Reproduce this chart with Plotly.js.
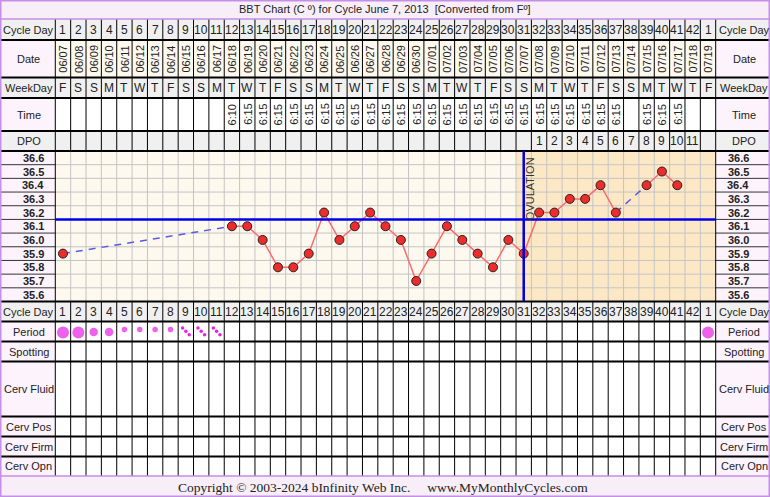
<!DOCTYPE html>
<html><head><meta charset="utf-8">
<script src="https://cdn.plot.ly/plotly-3.0.1.min.js"></script>
<style>html,body{margin:0;padding:0;background:#fff}#chart{width:770px;height:497px}</style>
</head><body><div id="chart"></div>
<script>
// ---------- DATA ----------
const chartTitle = 'BBT Chart (C º) for Cycle June 7, 2013 \u00a0[Converted from Fº]';
const footerText = 'Copyright © 2003-2024 bInfinity Web Inc. \u00a0\u00a0\u00a0\u00a0www.MyMonthlyCycles.com';
const cycleDays = [1,2,3,4,5,6,7,8,9,10,11,12,13,14,15,16,17,18,19,20,21,22,23,24,25,26,27,28,29,30,31,32,33,34,35,36,37,38,39,40,41,42,1];
const dates = ['06/07','06/08','06/09','06/10','06/11','06/12','06/13','06/14','06/15','06/16','06/17','06/18','06/19','06/20','06/21','06/22','06/23','06/24','06/25','06/26','06/27','06/28','06/29','06/30','07/01','07/02','07/03','07/04','07/05','07/06','07/07','07/08','07/09','07/10','07/11','07/12','07/13','07/14','07/15','07/16','07/17','07/18','07/19'];
const weekdays = ['F','S','S','M','T','W','T','F','S','S','M','T','W','T','F','S','S','M','T','W','T','F','S','S','M','T','W','T','F','S','S','M','T','W','T','F','S','S','M','T','W','T','F'];
const times = ['','','','','','','','','','','','6:10','6:15','6:15','6:15','6:15','6:15','6:15','6:15','6:15','6:15','6:15','6:15','6:15','6:15','6:15','6:15','6:15','6:15','6:15','6:15','6:15','6:15','6:15','6:15','6:15','6:15','','6:15','6:15','6:15','',''];
const dpo = ['','','','','','','','','','','','','','','','','','','','','','','','','','','','','','','','1','2','3','4','5','6','7','8','9','10','11',''];
const temps = [35.9,null,null,null,null,null,null,null,null,null,null,36.1,36.1,36.0,35.8,35.8,35.9,36.2,36.0,36.1,36.2,36.1,36.0,35.7,35.9,36.1,36.0,35.9,35.8,36.0,35.9,36.2,36.2,36.3,36.3,36.4,36.2,null,36.4,36.5,36.4,null,null];
const period = ['H','H','M','M','L','L','L','L','S','S','S','','','','','','','','','','','','','','','','','','','','','','','','','','','','','','','','H'];
const tempTicks = [36.6,36.5,36.4,36.3,36.2,36.1,36.0,35.9,35.8,35.7,35.6];
const coverline = 36.15;
const ovulationDay = 31;
const leftLabels = ['Cycle Day','Date','WeekDay','Time','DPO','Cycle Day','Period','Spotting','Cerv Fluid','Cerv Pos','Cerv Firm','Cerv Opn'];

// ---------- LAYOUT GEOMETRY ----------
const FONT = 'Liberation Sans, Arial, sans-serif';
const W=770, H=497, X0=55.3, X1=715.7;
const N = cycleDays.length, CW = (X1-X0)/N;
const XMIN = 0.5 - X0/CW, XMAX = N+0.5 + (W-X1)/CW;
const py = p => 1 - p/H;
const pp = p => p/W;
const edge = k => X0 + k*CW;
const R = {title:[0,19], cd1:[19,40], date:[40,77.5], wd:[77.5,98], time:[98,131], dpo:[131,151], chart:[151,301.5],
  cd2:[301.5,321.5], period:[321.5,341.5], spot:[341.5,361.5], fluid:[361.5,416.5], pos:[416.5,436.5], firm:[436.5,456.5], opn:[456.5,476], footer:[476,497]};
const rowKeys = ['cd1','date','wd','time','dpo','cd2','period','spot','fluid','pos','firm','opn'];
const mid = k => (R[k][0]+R[k][1])/2;
const TMIN = 35.55, TMAX = 36.65;

const GRAY='#f0f0f0', PINK='#fdf3fd', CREAM='#fdf9ee', ORANGE='#fde8c6', BAND='#f8eef8', PURPLE='#c58ee8';
const shapes = [];
function rect(x0,x1,y0,y1,fill){shapes.push({type:'rect',layer:'below',xref:'paper',yref:'paper',x0:pp(x0),x1:pp(x1),y0:py(y1),y1:py(y0),fillcolor:fill,line:{width:0}});}
function hl(x0,x1,y,color,w){shapes.push({type:'line',layer:'below',xref:'paper',yref:'paper',x0:pp(x0),x1:pp(x1),y0:py(y),y1:py(y),line:{color:color,width:w}});}
function vl(x,y0,y1,color,w){shapes.push({type:'line',layer:'below',xref:'paper',yref:'paper',x0:pp(x),x1:pp(x),y0:py(y0),y1:py(y1),line:{color:color,width:w}});}

// bands
rect(0,W,R.title[0],R.title[1],BAND);
rect(0,W,R.footer[0],R.footer[1],BAND);
const labelFill = {cd1:GRAY,date:PINK,wd:GRAY,time:PINK,dpo:GRAY,cd2:GRAY,period:PINK,spot:PINK,fluid:PINK,pos:PINK,firm:PINK,opn:PINK};
const cellFill = {cd1:GRAY,date:CREAM,wd:GRAY,time:'#ffffff',dpo:GRAY,cd2:GRAY,period:'#ffffff',spot:'#ffffff',fluid:'#ffffff',pos:'#ffffff',firm:'#ffffff',opn:'#ffffff'};
rowKeys.forEach(k=>{
  rect(0,X0,R[k][0],R[k][1],labelFill[k]);
  rect(X1,W,R[k][0],R[k][1],labelFill[k]);
  rect(X0,X1,R[k][0],R[k][1],cellFill[k]);
});
rect(0,X0,R.chart[0],R.chart[1],PINK);
rect(X1,W,R.chart[0],R.chart[1],PINK);
rect(X0,edge(ovulationDay-1),R.chart[0],R.chart[1],CREAM);
rect(edge(ovulationDay-1),X1,R.chart[0],R.chart[1],ORANGE);

// chart grid
for(let k=1;k<N;k++) vl(edge(k),R.chart[0],R.chart[1],'#c4c4c4',1);
for(let t=1;t<tempTicks.length;t++){
  const v = TMIN + t*0.1;
  shapes.push({type:'line',layer:'below',xref:'paper',yref:'y',x0:pp(X0),x1:pp(X1),y0:v,y1:v,line:{color:'#c4c4c4',width:1}});
  shapes.push({type:'line',layer:'below',xref:'paper',yref:'y',x0:0,x1:pp(X0),y0:v,y1:v,line:{color:'#333',width:1}});
  shapes.push({type:'line',layer:'below',xref:'paper',yref:'y',x0:pp(X1),x1:1,y0:v,y1:v,line:{color:'#333',width:1}});
}
// table vertical lines
for(let k=0;k<=N;k++){
  vl(edge(k),R.cd1[0],R.dpo[1],'#000',1);
  vl(edge(k),R.cd2[0],R.opn[1],'#000',1);
}
vl(X0,R.chart[0],R.chart[1],'#000',1);
vl(X1,R.chart[0],R.chart[1],'#000',1);
// horizontal separators
[R.cd1[1],R.date[1],R.wd[1],R.time[1],R.dpo[1],R.chart[1],R.cd2[1],R.period[1],R.spot[1],R.fluid[1],R.pos[1],R.firm[1]].forEach(y=>hl(0,W,y,'#000',2));
hl(0,W,R.title[1],PURPLE,1.5);
hl(0,W,R.footer[0],PURPLE,1.5);
shapes.push({type:'rect',layer:'below',xref:'paper',yref:'paper',x0:pp(0.75),x1:pp(W-0.75),y0:py(H-0.75),y1:py(0.75),line:{color:PURPLE,width:1.5},fillcolor:'rgba(0,0,0,0)'});
// coverline and ovulation line (data referenced)
shapes.push({type:'line',layer:'above',xref:'paper',yref:'y',x0:pp(X0),x1:pp(X1),y0:coverline,y1:coverline,line:{color:'#0000ee',width:2.5}});
shapes.push({type:'line',layer:'above',xref:'x',yref:'y',x0:ovulationDay,x1:ovulationDay,y0:TMIN,y1:TMAX,line:{color:'#0000dd',width:2.5}});

// ---------- TEXT ----------
const ann = [];
function txt(x,xref,yPix,text,size,extra){ann.push(Object.assign({x:x,xref:xref,y:py(yPix),yref:'paper',text:text,showarrow:false,xanchor:'center',yanchor:'middle',font:{family:FONT,size:size,color:'#222'}},extra||{}));}
const xs = cycleDays.map((_,i)=>i+1);
rowKeys.forEach((k,i)=>{
  txt(pp(28.5),'paper',mid(k),leftLabels[i],11);
  txt(pp(744),'paper',mid(k),leftLabels[i],11);
});
tempTicks.forEach(t=>{
  ann.push({x:pp(33),xref:'paper',y:t,yref:'y',text:'<b>'+t.toFixed(1)+'</b>',showarrow:false,xanchor:'center',yanchor:'middle',font:{family:FONT,size:11,color:'#222'}});
  ann.push({x:pp(738),xref:'paper',y:t,yref:'y',text:'<b>'+t.toFixed(1)+'</b>',showarrow:false,xanchor:'center',yanchor:'middle',font:{family:FONT,size:11,color:'#222'}});
});
xs.forEach((x,i)=>{
  txt(x,'x',mid('cd1'),String(cycleDays[i]),12);
  txt(x,'x',mid('cd2'),String(cycleDays[i]),12);
  txt(x,'x',mid('date'),dates[i],11,{textangle:-90});
  txt(x,'x',mid('wd'),weekdays[i],12);
  if(times[i]) txt(x,'x',mid('time'),times[i],11,{textangle:-90});
  if(dpo[i]) txt(x,'x',mid('dpo'),dpo[i],12);
});
txt(pp(385),'paper',mid('title'),chartTitle,11);
ann.push({x:pp(383),xref:'paper',y:py(487),yref:'paper',text:footerText,showarrow:false,xanchor:'center',yanchor:'middle',font:{family:'Liberation Serif, Times New Roman, serif',size:13.5,color:'#222'}});
ann.push({x:ovulationDay+0.45,xref:'x',y:py(155),yref:'paper',text:'OVULATION',textangle:-90,showarrow:false,xanchor:'center',yanchor:'top',font:{family:FONT,size:11,color:'#333'}});

// ---------- TRACES ----------
const gapX=[], gapY=[];
for(let i=0;i<temps.length;i++){
  if(temps[i]===null) continue;
  let j=i+1; while(j<temps.length && temps[j]===null) j++;
  if(j<temps.length && j>i+1){ gapX.push(xs[i],xs[j],null); gapY.push(temps[i],temps[j],null); }
}
const flowStyle = {H:{size:12,y:0.45},M:{size:8.5,y:0.47},L:{size:5.5,y:0.6}};
const pX=[],pY=[],pS=[],sX=[],sY=[];
period.forEach((p,i)=>{
  if(flowStyle[p]){pX.push(xs[i]);pY.push(flowStyle[p].y);pS.push(flowStyle[p].size);}
  else if(p==='S'){[-0.21,0,0.22].forEach((d,k)=>{sX.push(xs[i]+d);sY.push(0.68-k*0.17);});}
});
const traces = [
  {x:gapX,y:gapY,mode:'lines',line:{color:'#5a5ae6',width:1.5,dash:'7px,6px'},xaxis:'x',yaxis:'y',hoverinfo:'skip'},
  {x:xs,y:temps,mode:'lines+markers',connectgaps:false,line:{color:'#ff6a6a',width:1.5},marker:{size:9,color:'#ee2c2c',line:{color:'#222',width:1}},xaxis:'x',yaxis:'y'},
  {x:pX,y:pY,mode:'markers',marker:{size:pS,color:'#e620e6',line:{width:0}},xaxis:'x',yaxis:'y2'},
  {x:sX,y:sY,mode:'markers',marker:{size:3.5,color:'#e620e6',line:{width:0}},xaxis:'x',yaxis:'y2'}
];
const ax = {showgrid:false,zeroline:false,showticklabels:false,showline:false,ticks:'',fixedrange:true};
const layout = {
  width:W,height:H,margin:{l:0,r:0,t:0,b:0},paper_bgcolor:'#ffffff',plot_bgcolor:'rgba(0,0,0,0)',showlegend:false,hovermode:false,
  xaxis:Object.assign({domain:[0,1],range:[XMIN,XMAX]},ax),
  yaxis:Object.assign({domain:[py(R.chart[1]),py(R.chart[0])],range:[TMIN,TMAX]},ax),
  yaxis2:Object.assign({domain:[py(R.period[1]),py(R.period[0])],range:[0,1],anchor:'x'},ax),
  shapes:shapes,annotations:ann
};
Plotly.newPlot('chart',traces,layout,{staticPlot:true,displayModeBar:false});
</script></body></html>
